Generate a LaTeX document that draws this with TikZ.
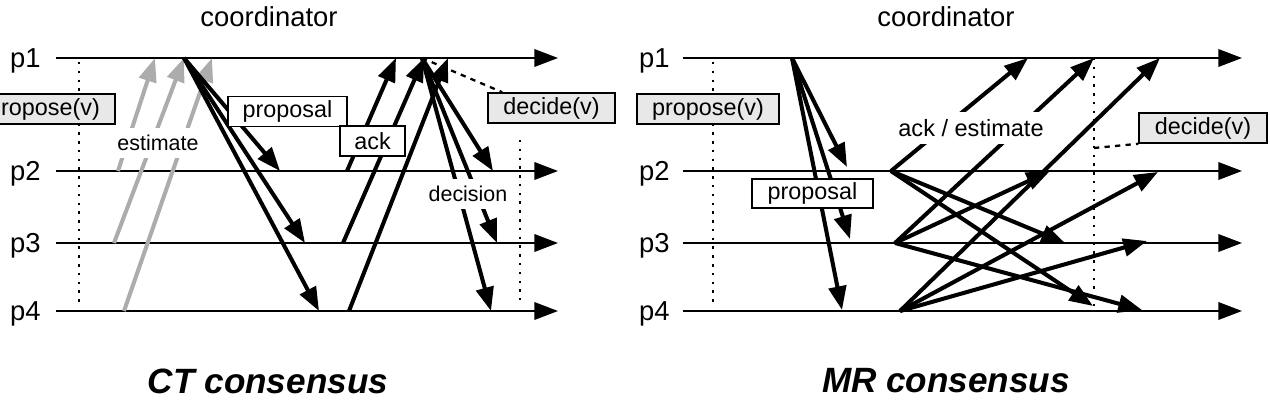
\documentclass[tikz,border=0pt]{standalone}
\usepackage{fontspec}
\setmainfont{Liberation Sans}
\usetikzlibrary{arrows.meta,calc}

\begin{document}
\begin{tikzpicture}[x=0.02cm,y=-0.02cm,>={Triangle[length=13.5pt,width=10pt]},
  proc/.style={line width=1.1pt,->},
  msg/.style={line width=2.3pt,->},
  estmsg/.style={msg,draw=gray!65},
  vline/.style={line width=1.4pt,dash pattern=on 1.4pt off 3.6pt},
  dline/.style={line width=1.3pt,dash pattern=on 3pt off 3pt},
  plabel/.style={font=\fontsize{15.6}{16}\selectfont,inner sep=0pt},
  box/.style={draw,line width=0.9pt,fill=white,inner sep=0pt,minimum height=0.6cm,
    font=\fontsize{13.3}{14}\selectfont},
  evbox/.style={box,fill=gray!18},
  lbl/.style={fill=white,inner xsep=2pt,inner ysep=4pt,font=\fontsize{12.2}{13}\selectfont},
  title/.style={font=\fontsize{20}{22}\selectfont\bfseries\itshape}]
  \useasboundingbox (0,0) rectangle (1270,402);

  % ---------- CT consensus ----------
  % process lines
  \foreach \i/\y in {1/58,2/171,3/243,4/311} {
    \node[plabel,anchor=east] (ctp\i) at (41,\y+3) {p\i};
    \coordinate (ctl\i) at (56,\y);
    \coordinate (ctr\i) at (558,\y);
    \draw[proc] (ctl\i) -- (ctr\i);
  }
  \node[plabel] (ctcoord) at (269,17) {coordinator};
  % time marks
  \coordinate (ctva) at (79,62);   \coordinate (ctvb) at (79,305);
  \coordinate (ctwa) at (520,140); \coordinate (ctwb) at (520,300);
  \draw[vline] (ctva) -- (ctvb);
  \draw[vline] (ctwa) -- (ctwb);
  % coordinator events
  \coordinate (ctprop) at (184,58);
  \coordinate (ctdec) at (422,58);
  % estimates (gray)
  \foreach \n/\sx/\sy/\tx in {2/118/171/155,3/114/243/184,4/124/311/212} {
    \coordinate (ctes\n) at (\sx,\sy);
    \coordinate (ctet\n) at (\tx,58);
    \draw[estmsg] (ctes\n) -- (ctet\n);
  }
  % proposal
  \foreach \n/\tx/\ty in {2/280/171,3/305/243,4/319/311} {
    \coordinate (ctpr\n) at (\tx,\ty);
    \draw[msg] (ctprop) -- (ctpr\n);
  }
  % ack
  \foreach \n/\sx/\sy/\tx in {2/347/171/396,3/343/243/424,4/349/311/448} {
    \coordinate (ctas\n) at (\sx,\sy);
    \coordinate (ctat\n) at (\tx,58);
    \draw[msg] (ctas\n) -- (ctat\n);
  }
  % decision
  \node[evbox,minimum width=2.54cm] (ctdecide) at (551.5,108) {decide(v)};
  \draw[dline] (ctdec) -- ($(ctdecide.north west)+(15,0)$);
  \foreach \n/\tx/\ty in {2/493/171,3/497/243,4/491/311} {
    \coordinate (ctdt\n) at (\tx,\ty);
    \draw[msg] (ctdec) -- (ctdt\n);
  }
  % boxes and labels
  \node[evbox,minimum width=2.84cm] (ctpropose) at (44,109) {propose(v)};
  \node[evbox,minimum width=2.54cm] at (ctdecide) {decide(v)};
  \node[box,minimum width=2.38cm] (ctproposal) at (287.5,111.5) {proposal};
  \node[box,minimum width=1.3cm] (ctack) at (372.5,141) {ack};
  \node[lbl] (ctest) at (158,143) {estimate};
  \node[lbl] (ctdecis) at (468,194) {decision};
  \node[title] (cttitle) at (268,381) {CT consensus};

  % ---------- MR consensus ----------
  % process lines
  \foreach \i/\y in {1/58,2/171,3/243,4/311} {
    \node[plabel,anchor=east] (mrp\i) at (670,\y+3) {p\i};
    \coordinate (mrl\i) at (683,\y);
    \coordinate (mrr\i) at (1242,\y);
    \draw[proc] (mrl\i) -- (mrr\i);
  }
  \node[plabel] (mrcoord) at (946,17) {coordinator};
  % time marks
  \coordinate (mrva) at (713,62);   \coordinate (mrvb) at (713,303);
  \coordinate (mrwa) at (1094,58);  \coordinate (mrwb) at (1094,306);
  \draw[vline] (mrva) -- (mrvb);
  \draw[vline] (mrwa) -- (mrwb);
  % proposal
  \coordinate (mrprop) at (792,58);
  \foreach \n/\tx/\ty in {2/847/167,3/850/239,4/842/310} {
    \coordinate (mrpr\n) at (\tx,\ty);
    \draw[msg] (mrprop) -- (mrpr\n);
  }
  % ack / estimate, all to all
  \coordinate (mra2) at (891,171);
  \coordinate (mra3) at (895,243);
  \coordinate (mra4) at (900,311);
  \foreach \s/\t/\tx/\ty in {2/1/1028/58,2/3/1065/243,2/4/1093/306,
      3/1/1094/58,3/2/1050/171,3/4/1142/310,
      4/1/1160/58,4/2/1158/172,4/3/1147/241} {
    \coordinate (mrt\s\t) at (\tx,\ty);
    \draw[msg] (mra\s) -- (mrt\s\t);
  }
  % decision
  \coordinate (mrdec) at (1094,148);
  \node[evbox,minimum width=2.56cm] (mrdecide) at (1203,128) {decide(v)};
  \draw[dline] (mrdec) -- (mrdecide.south west);
  % boxes and labels
  \node[evbox,minimum width=2.84cm] (mrpropose) at (708,109) {propose(v)};
  \node[evbox,minimum width=2.56cm] at (mrdecide) {decide(v)};
  \node[box,minimum width=2.42cm,minimum height=0.58cm] (mrproposal) at (812.5,193.5) {proposal};
  \node[lbl,font=\fontsize{13.4}{14}\selectfont] (mrack) at (971,128) {ack / estimate};
  \node[title] (mrtitle) at (946,381) {MR consensus};
\end{tikzpicture}
\end{document}
